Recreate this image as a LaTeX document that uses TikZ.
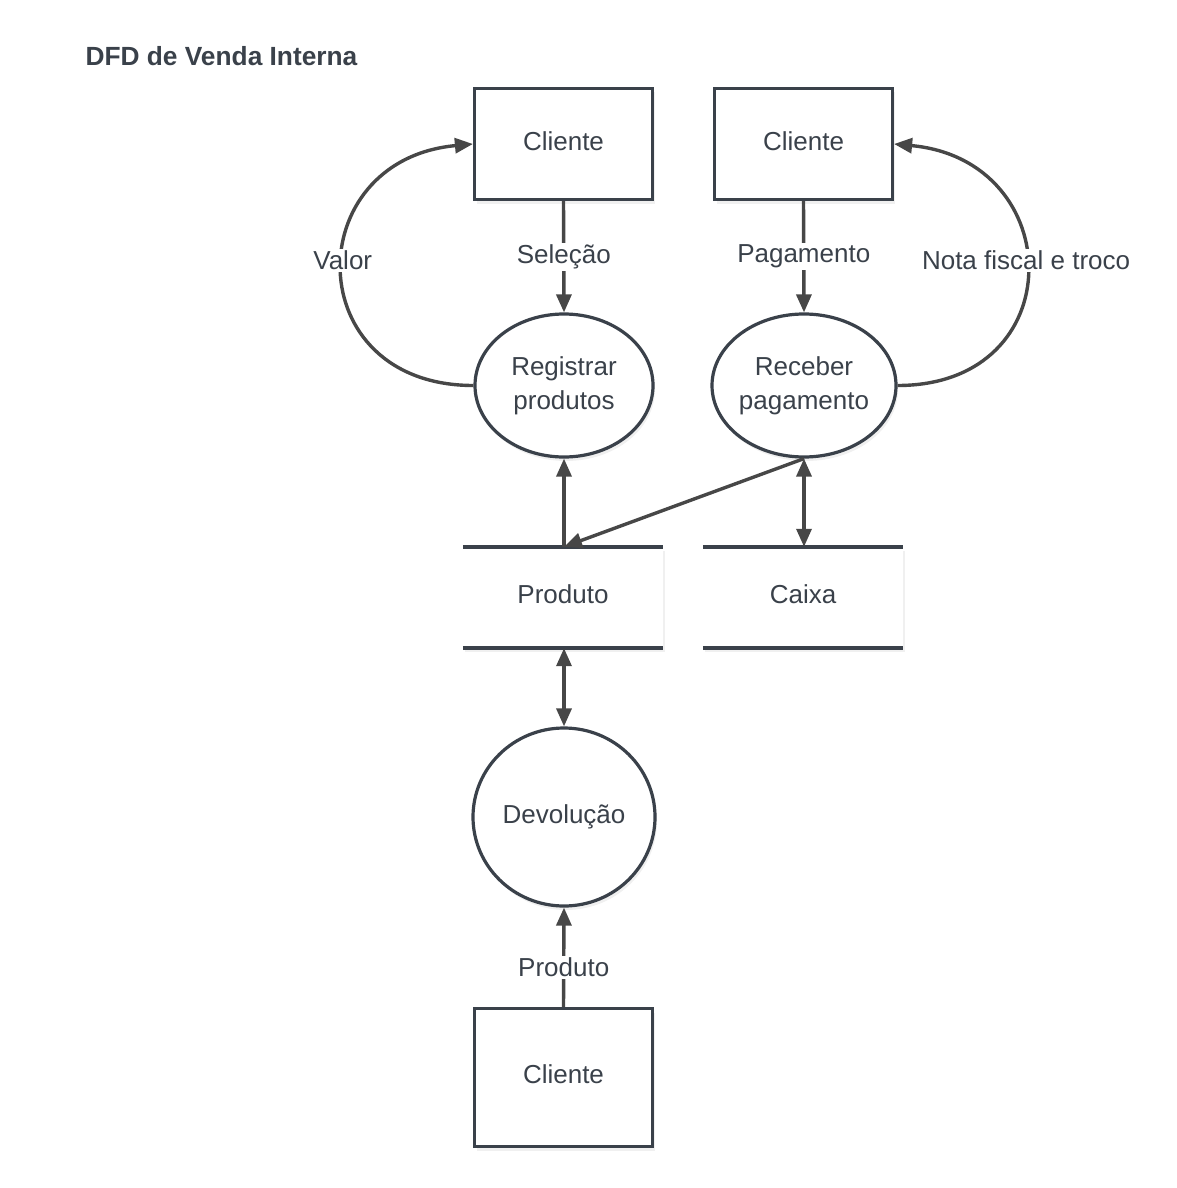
\documentclass[tikz,border=0pt]{standalone}
\usepackage{fontspec}
\setmainfont{Liberation Sans}
\usetikzlibrary{shapes.geometric,arrows.meta,shadows}
\definecolor{txt}{HTML}{3A414A}
\definecolor{edge}{HTML}{3A414A}
\definecolor{arr}{HTML}{474747}
\begin{document}
\begin{tikzpicture}[x=1pt,y=-1pt,
  every node/.style={text=txt,font=\fontsize{26}{34}\selectfont},
  soft/.style={drop shadow={opacity=0.12,shadow xshift=2pt,shadow yshift=-4pt}},
  entity/.style={draw=edge,line width=3.2pt,fill=white,minimum width=178pt,inner sep=0pt,text depth=6pt,soft},
  proc/.style={ellipse,draw=edge,line width=3.2pt,fill=white,inner sep=0pt,align=center,soft},
  store/.style={fill=white,minimum width=200pt,minimum height=101pt,inner sep=0pt,text depth=6pt,soft},
  flow/.style={draw=arr,line width=3.4pt,-{Triangle[length=18pt,width=15pt]}},
  bflow/.style={draw=arr,line width=3.4pt,{Triangle[length=18pt,width=15pt]}-{Triangle[length=18pt,width=15pt]}},
  lbl/.style={fill=white,inner sep=2pt}]
\useasboundingbox (0,0) rectangle (1176,1188);
\node[anchor=west,font=\bfseries\fontsize{26.3}{30}\selectfont] (title) at (82,56) {DFD de Venda Interna};
% entities
\node[entity,minimum height=111pt] (c1) at (563.5,144) {Cliente};
\node[entity,minimum height=111pt] (c2) at (803.5,144) {Cliente};
\node[entity,minimum height=138pt] (c3) at (563.5,1077.5) {Cliente};
% processes
\node[proc,minimum width=178pt,minimum height=143pt] (rg) at (564,385.5) {Registrar\\produtos};
\node[proc,minimum width=178pt,minimum height=143pt] (rp) at (804,385.5) {Receber\\pagamento};
\node[proc,minimum width=182pt,minimum height=178pt] (dv) at (564,817) {Devolução};
% stores
\node[store] (ps) at (563,597.5) {Produto};
\node[store] (cx) at (803,597.5) {Caixa};
\foreach \s in {ps,cx}{
  \draw[edge,line width=4pt] (\s.north west) -- (\s.north east);
  \draw[edge,line width=4pt] (\s.south west) -- (\s.south east);
}
% flows
\draw[flow] (c1.south) -- node[lbl]{Seleção} (rg.north);
\draw[flow] (c2.south) -- node[lbl]{Pagamento} (rp.north);
\draw[flow] (rg.west) .. controls +(-175,0) and +(-174,16) .. node[lbl,pos=0.53]{Valor} (c1.west);
\draw[flow] (rp.east) .. controls +(175,0) and +(174,16) .. node[lbl,pos=0.53]{Nota fiscal e troco} (c2.east);
\coordinate (pstop) at ([xshift=1pt]ps.north);
\draw[flow] (pstop) -- (rg.south);
\draw[flow] (rp.south) -- (pstop);
\draw[bflow] (rp.south) -- (rp.south |- cx.north);
\draw[bflow] (ps.south -| dv.north) -- (dv.north);
\draw[flow] (c3.north) -- node[lbl,pos=0.4]{Produto} (dv.south);
\end{tikzpicture}
\end{document}
